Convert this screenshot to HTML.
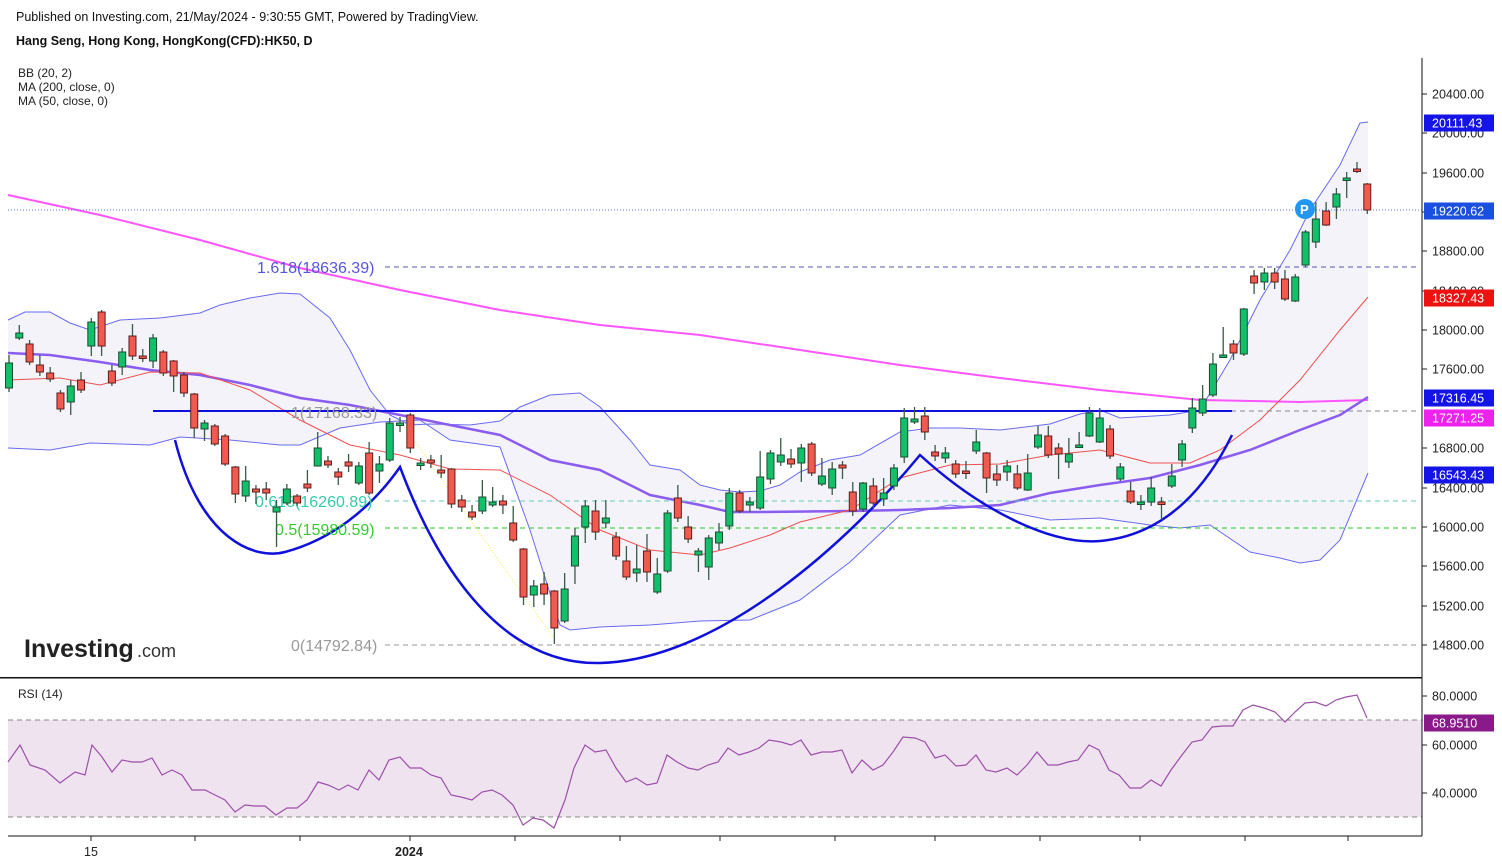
<!DOCTYPE html>
<html><head><meta charset="utf-8"><style>
body{margin:0;background:#fff;font-family:"Liberation Sans",sans-serif;}
svg{display:block}
text{font-family:"Liberation Sans",sans-serif}
</style></head><body>
<svg id="s" width="1502" height="866" xmlns="http://www.w3.org/2000/svg">
<rect width="1502" height="866" fill="#fff"/>
<text x="16" y="21" font-size="12.5" fill="#111">Published on Investing.com, 21/May/2024 - 9:30:55 GMT, Powered by TradingView.</text>
<text x="16" y="45" font-size="12.5" font-weight="bold" fill="#111">Hang Seng, Hong Kong, HongKong(CFD):HK50, D</text>
<text x="18" y="77" font-size="12" fill="#222">BB (20, 2)</text>
<text x="18" y="91" font-size="12" fill="#222">MA (200, close, 0)</text>
<text x="18" y="105" font-size="12" fill="#222">MA (50, close, 0)</text>
<polygon id="bbfill" fill="#f3f3f9" points=""/>
<g id="lines"></g>
<g id="candles"></g>
<text x="24" y="657" font-size="25" font-weight="bold" fill="#222">Investing</text>
<text x="137" y="657" font-size="18" fill="#333">.com</text>
<rect x="0" y="677" width="1422" height="1.5" fill="#111"/>
<rect x="8" y="720" width="1414" height="97" fill="#f0e3f0"/>
<line x1="8" y1="720" x2="1422" y2="720" stroke="#888" stroke-dasharray="5,4"/>
<line x1="8" y1="817" x2="1422" y2="817" stroke="#888" stroke-dasharray="5,4"/>
<polyline id="rsi" fill="none" stroke="#9c4fa8" stroke-width="1.2" points=""/>
<text x="18" y="698" font-size="12" fill="#222">RSI (14)</text>
<line x1="1422" y1="58" x2="1422" y2="836" stroke="#111"/>
<line x1="8" y1="836" x2="1422" y2="836" stroke="#111"/>
<g id="axis" font-size="12.5" fill="#222"></g>
<text x="84" y="856" font-size="12.5" fill="#222">15</text>
<text x="395" y="856" font-size="12.5" font-weight="bold" fill="#222">2024</text>
</svg>
<script>
const NS="http://www.w3.org/2000/svg";
function el(p,t,a){const e=document.createElementNS(NS,t);for(const k in a)e.setAttribute(k,a[k]);p.appendChild(e);return e;}
const s=document.getElementById('s');
const L=document.getElementById('lines');
const up=[[8,320],[25,312],[50,312],[70,323],[90,330],[120,320],[160,318],[200,313],[220,305],[250,298],[280,293],[300,294],[330,318],[350,350],[370,390],[390,415],[410,425],[430,424],[470,425],[500,421],[520,407],[550,395],[580,393],[600,407],[630,440],[650,465],[680,470],[700,485],[720,490],[740,492],[760,491],[780,485],[800,472],[830,460],[860,455],[900,432],[930,428],[960,428],[1000,430],[1050,424],[1080,414],[1100,410],[1120,418],[1170,415],[1200,410],[1230,360],[1260,300],[1290,250],[1310,210],[1340,165],[1360,123],[1368,122]];
const lo=[[8,448],[50,450],[90,443],[150,445],[180,437],[230,440],[280,445],[300,445],[340,428],[380,422],[420,420],[450,440],[500,447],[530,530],[560,625],[570,630],[600,627],[650,625],[700,621],[750,620],[800,600],[850,562],[900,515],[950,505],[1000,510],[1050,520],[1100,518],[1150,525],[1180,528],[1210,525],[1250,552],[1280,558],[1300,563],[1320,560],[1340,540],[1368,473]];
const pts=a=>a.map(p=>p.join(',')).join(' ');
document.getElementById('bbfill').setAttribute('points',pts(up)+' '+pts(lo.slice().reverse()));
el(L,'polyline',{points:pts(up),fill:'none',stroke:'#6a6af0','stroke-width':1});
el(L,'polyline',{points:pts(lo),fill:'none',stroke:'#6a6af0','stroke-width':1});
const ma200=[[8,195],[100,215],[200,240],[300,268],[400,290],[500,310],[600,325],[700,335],[800,350],[900,365],[1000,378],[1100,390],[1200,400],[1300,402],[1368,400]];
el(L,'polyline',{points:pts(ma200),fill:'none',stroke:'#ff55ff','stroke-width':2});
const ma50=[[8,353],[50,355],[100,362],[150,370],[200,375],[250,385],[300,398],[350,405],[400,415],[450,425],[500,435],[550,460],[600,470],[650,495],[700,505],[730,512],[760,512],[850,511],[900,510],[950,508],[1000,505],[1050,493],[1100,485],[1150,478],[1200,465],[1250,450],[1300,430],[1340,415],[1368,397]];
el(L,'polyline',{points:pts(ma50),fill:'none',stroke:'#8a5cf0','stroke-width':2.5});
const ma20=[[8,380],[60,378],[100,385],[150,372],[200,373],[250,390],[300,420],[350,445],[400,455],[450,469],[500,470],[550,495],[600,530],[650,550],[700,555],[730,548],[770,535],[800,522],[850,510],[900,478],[950,465],[1000,464],[1050,455],[1100,450],[1150,463],[1190,463],[1220,450],[1260,420],[1300,380],[1340,330],[1368,297]];
el(L,'polyline',{points:pts(ma20),fill:'none',stroke:'#f05050','stroke-width':1});
el(L,'line',{x1:385,y1:267,x2:1420,y2:267,stroke:'#5555bb','stroke-dasharray':'5,4'});
el(L,'line',{x1:385,y1:411,x2:1420,y2:411,stroke:'#888','stroke-dasharray':'5,4'});
el(L,'line',{x1:385,y1:501,x2:1420,y2:501,stroke:'#66ccbb','stroke-dasharray':'5,4'});
el(L,'line',{x1:385,y1:528,x2:1420,y2:528,stroke:'#22cc22','stroke-dasharray':'5,4'});
el(L,'line',{x1:385,y1:645,x2:1420,y2:645,stroke:'#999','stroke-dasharray':'5,4'});
el(L,'line',{x1:8,y1:210,x2:1422,y2:210,stroke:'#5577dd','stroke-dasharray':'1,2'});
el(L,'line',{x1:153,y1:411,x2:1232,y2:411,stroke:'#1010dd','stroke-width':2});
el(L,'path',{d:'M175,440 C200,540 255,560 285,552 C330,540 370,510 400,467 C450,600 520,665 600,663 C720,660 850,540 920,455 C980,510 1050,545 1100,541 C1170,535 1210,480 1232,435',fill:'none',stroke:'#1010dd','stroke-width':2.5});
el(L,'line',{x1:400,y1:420,x2:555,y2:640,stroke:'#eeee44','stroke-dasharray':'1,2'});
const ft=[[257,273,'1.618(18636.39)','#5555dd'],[291,418,'1(17168.33)','#999'],[255,507,'0.618(16260.89)','#33ccaa'],[275,535,'0.5(15980.59)','#33cc33'],[291,651,'0(14792.84)','#999']];
ft.forEach(f=>{const t=el(L,'text',{x:f[0],y:f[1],'font-size':16,fill:f[3]});t.textContent=f[2];});
const D=[[388,363,355,392],[338,333,325,340],[344,362,340,365],[365,372,355,376],[373,379,367,382],[393,409,390,412],[402,386,380,415],[380,390,372,393],[346,322,318,356],[312,346,310,356],[371,383,365,386],[367,352,348,375],[336,356,324,360],[356,356,349,362],[361,338,334,368],[352,373,350,376],[361,376,360,392],[375,393,372,397],[394,428,393,438],[429,423,420,441],[426,444,424,446],[436,464,434,466],[467,494,466,503],[496,481,466,502],[489,492,485,504],[489,493,482,500],[512,507,500,547],[503,489,484,505],[496,503,494,506],[484,488,470,492],[466,448,432,466],[461,465,456,468],[472,477,468,485],[462,466,454,472],[483,466,462,485],[453,493,442,495],[471,464,456,483],[460,423,418,462],[423,423,417,432],[415,448,413,453],[463,463,458,470],[460,463,455,468],[470,473,455,478],[469,504,468,508],[500,507,495,512],[512,517,505,520],[511,497,480,514],[505,502,487,507],[501,505,495,514],[523,540,506,542],[549,597,548,605],[595,586,580,607],[584,594,572,605],[591,628,590,644],[621,589,573,623],[566,536,528,584],[527,506,500,543],[511,532,500,540],[523,518,500,528],[537,556,532,560],[561,577,546,580],[573,569,545,582],[551,572,534,582],[592,574,558,594],[571,513,510,573],[498,518,485,522],[527,539,516,543],[555,551,548,572],[567,538,535,580],[543,532,523,550],[526,493,488,530],[493,511,490,513],[505,502,497,512],[508,477,451,510],[479,453,450,484],[462,455,438,466],[459,464,449,468],[463,448,444,482],[444,473,442,476],[484,476,458,486],[488,469,462,495],[465,468,461,479],[492,511,482,516],[509,483,482,512],[486,503,478,509],[499,493,478,506],[486,468,464,490],[457,418,408,463],[422,419,407,424],[416,432,407,440],[452,456,445,461],[458,453,447,463],[464,474,460,478],[471,473,461,479],[451,442,430,454],[453,478,452,493],[474,480,465,486],[472,466,460,481],[474,488,465,490],[490,473,454,491],[447,435,426,449],[436,455,426,458],[448,454,443,479],[462,454,438,468],[445,445,432,447],[436,413,407,437],[442,418,408,443],[429,456,425,459],[479,467,463,481],[491,502,482,504],[504,502,495,510],[502,488,477,506],[502,504,497,520],[486,476,464,488],[460,444,440,467],[428,408,398,433],[413,399,385,416],[395,364,353,397],[355,355,327,358],[344,353,340,360],[354,309,308,356],[276,283,270,294],[282,273,268,290],[273,282,268,289],[279,299,270,301],[301,277,274,302],[265,232,230,267],[242,219,202,248],[211,225,202,226],[207,194,188,219],[178,178,172,198],[169,169,162,173],[184,210,183,214]];
const C=document.getElementById('candles');
D.forEach((d,i)=>{const x=9+i*10.29;const[o,c,h,l]=d;const g=c<o||(c==o&&i%2==0);
el(C,'line',{x1:x,y1:h,x2:x,y2:l,stroke:'#3a5a48','stroke-width':1.3});
const t=Math.min(o,c),b=Math.max(Math.abs(o-c),2.5);
el(C,'rect',{x:x-3.5,y:t,width:7,height:b,fill:g?'#12c06a':'#f25a50',stroke:g?'#1c4a32':'#5a1f1c','stroke-width':1});});
el(C,'circle',{cx:1305,cy:209,r:10,fill:'#2196f3'});
const pt=el(C,'text',{x:1300,y:214,'font-size':13,'font-weight':'bold',fill:'#fff'});pt.textContent='P';
const R=[[8,762],[20,745],[30,765],[45,770],[60,783],[75,772],[85,775],[92,745],[102,757],[112,772],[122,760],[132,762],[142,762],[152,758],[162,775],[172,770],[182,775],[192,790],[205,790],[215,795],[225,800],[235,812],[245,805],[255,806],[265,806],[276,815],[287,808],[297,808],[307,800],[318,782],[328,785],[339,790],[348,785],[358,790],[369,770],[379,780],[389,760],[400,757],[410,768],[421,768],[431,775],[441,778],[451,795],[461,797],[472,800],[482,792],[492,790],[502,795],[513,805],[523,825],[533,818],[543,820],[554,828],[565,800],[574,768],[585,745],[595,752],[606,750],[616,768],[626,782],[636,778],[647,785],[657,783],[667,755],[677,762],[688,768],[698,770],[708,765],[718,762],[728,748],[739,755],[749,752],[759,748],[769,740],[781,742],[791,745],[801,740],[811,755],[822,752],[832,752],[842,750],[852,773],[862,760],[873,770],[883,765],[893,752],[903,737],[915,738],[925,742],[935,758],[945,755],[956,766],[966,765],[976,755],[986,770],[996,772],[1007,768],[1017,775],[1027,765],[1037,752],[1048,765],[1058,765],[1068,762],[1078,760],[1089,745],[1099,750],[1109,770],[1119,775],[1130,788],[1141,788],[1151,780],[1161,786],[1171,770],[1182,755],[1192,742],[1202,740],[1212,727],[1223,726],[1233,726],[1243,710],[1253,705],[1264,708],[1275,712],[1285,722],[1295,712],[1305,703],[1315,702],[1326,706],[1336,700],[1346,697],[1357,695],[1367,718]];
document.getElementById('rsi').setAttribute('points',pts(R));
const A=document.getElementById('axis');
[[20400,94],[20000,133],[19600,173],[19200,212],[18800,251],[18400,291],[18000,330],[17600,369],[16800,448],[16400,488],[16000,527],[15600,566],[15200,606],[14800,645]].forEach(a=>{el(A,'line',{x1:1422,y1:a[1],x2:1427,y2:a[1],stroke:'#222'});const t=el(A,'text',{x:1432,y:a[1]+4.5});t.textContent=a[0].toFixed(2);});
[['80.0000',696],['60.0000',745],['40.0000',793]].forEach(a=>{el(A,'line',{x1:1422,y1:a[1],x2:1427,y2:a[1],stroke:'#222'});const t=el(A,'text',{x:1432,y:a[1]+4.5});t.textContent=a[0];});
[['20111.43',123,'#1414e6'],['19220.62',211,'#1a4fe0'],['18327.43',298,'#ee1111'],['17316.45',398,'#1414e6'],['17271.25',418,'#ee22ee'],['16543.43',475,'#1414e6'],['68.9510',723,'#8a1a8a']].forEach(a=>{el(A,'rect',{x:1424,y:a[1]-8.5,width:70,height:17,fill:a[2]});const t=el(A,'text',{x:1432,y:a[1]+4.5,fill:'#fff'});t.textContent=a[0];});
[91,195,300,410,515,620,720,835,935,1040,1140,1245,1348].forEach(x=>el(A,'line',{x1:x,y1:836,x2:x,y2:841,stroke:'#222'}));
</script>
</body></html>
